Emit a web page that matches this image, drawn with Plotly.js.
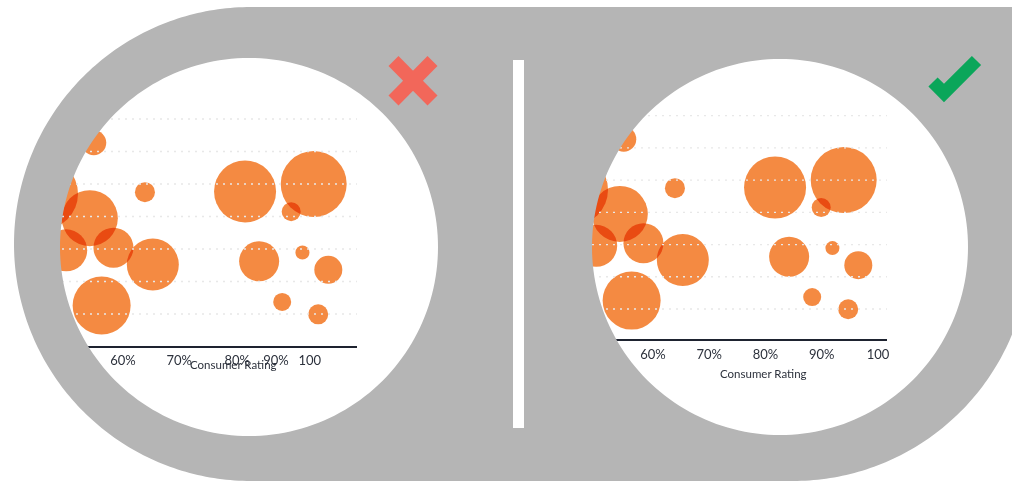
<!DOCTYPE html>
<html><head><meta charset="utf-8">
<script src="https://cdn.plot.ly/plotly-3.0.1.min.js"></script>
<style>
html,body{margin:0;padding:0;background:#fff;}
#chart{width:1012px;height:481px;}
#chart .scatterlayer path.point{mix-blend-mode:multiply;}
</style>
</head><body><div id="chart"></div>
<script>
// ---- data ----
const ratingPct   = [54.8, 45.6, 54.1, 49.9, 58.3, 65.3, 56.2, 63.9, 81.7, 93.9, 89.9, 84.2, 91.9, 96.5, 88.3, 94.7];
const scoreLevel  = [6.27, 4.70, 3.95, 2.96, 3.04, 2.52, 1.26, 4.75, 4.77, 5.00, 4.15, 2.62, 2.89, 2.36, 1.37, 0.99];
const bubbleSize  = [25, 72, 56, 42, 40, 52, 58, 20, 62, 66, 19, 40, 14, 28, 18, 20];
const tickVals    = [60, 70, 80, 90, 100];
const badTickVals = [60, 70, 80.3, 87.2, 93.2];
const tickText    = ['60%', '70%', '80%', '90%', '100'];
const gridLevels  = [1, 2, 3, 4, 5, 6, 7];
const axisTitle   = 'Consumer Rating';

// ---- geometry helpers (pixel -> paper) ----
const W = 1012, H = 481;
const fx = px => (px / W).toFixed(5);
const fy = py => (1 - py / H).toFixed(5);
function circlePath(cx, cy, r, n) {
  let s = '';
  for (let i = 0; i < n; i++) {
    const a = 2 * Math.PI * i / n;
    s += (i ? ' L' : 'M') + fx(cx + r * Math.cos(a)) + ',' + fy(cy + r * Math.sin(a));
  }
  return s + ' Z';
}
// frame: rounded left end, square top-right, rounded bottom-right
function framePath(xl, xr, top, bot, n) {
  const r = (bot - top) / 2, cy = (top + bot) / 2;
  let s = 'M' + fx(xl) + ',' + fy(top) + ' L' + fx(xr + r + 20) + ',' + fy(top) + ' L' + fx(xr + r + 20) + ',' + fy(cy) + ' L' + fx(xr + r) + ',' + fy(cy);
  for (let i = 1; i <= n; i++) {
    const a = Math.PI / 2 * i / n;
    s += ' L' + fx(xr + r * Math.cos(a)) + ',' + fy(cy + r * Math.sin(a));
  }
  s += ' L' + fx(xl) + ',' + fy(bot);
  for (let i = 1; i <= 2 * n; i++) {
    const a = Math.PI / 2 + Math.PI * i / (2 * n);
    s += ' L' + fx(xl + r * Math.cos(a)) + ',' + fy(cy + r * Math.sin(a));
  }
  return s + ' Z';
}
function polyPath(pts) {
  return pts.map((p, i) => (i ? 'L' : 'M') + fx(p[0]) + ',' + fy(p[1])).join(' ') + ' Z';
}

const bubbleColor = '#f48a42';
const textColor = '#2c313c';
const FONT = 'Lato, "Open Sans", sans-serif';

const traces = [
  {type: 'scatter', mode: 'markers', x: ratingPct, y: scoreLevel, xaxis: 'x', yaxis: 'y',
   marker: {size: bubbleSize, sizemode: 'diameter', color: bubbleColor, opacity: 1, line: {width: 0}}, hoverinfo: 'skip'},
  {type: 'scatter', mode: 'markers', x: ratingPct, y: scoreLevel, xaxis: 'x2', yaxis: 'y2',
   marker: {size: bubbleSize, sizemode: 'diameter', color: bubbleColor, opacity: 1, line: {width: 0}}, hoverinfo: 'skip'}
];

const shapes = [];
gridLevels.forEach(k => {
  ['', '2'].forEach(sfx => {
    shapes.push({type: 'line', xref: 'x' + sfx + ' domain', yref: 'y' + sfx, x0: 0, x1: 1, y0: k, y1: k,
      line: {color: '#e8e8e8', width: 1.3, dash: '2px,5px'}, layer: 'above'});
  });
});
// grey frame with two round windows
shapes.push({type: 'path', xref: 'paper', yref: 'paper', layer: 'above',
  path: framePath(251, 793, 7, 481, 90) + ' ' + circlePath(249, 247, 189, 200) + ' ' + circlePath(780, 247, 188, 200),
  fillrule: 'evenodd', fillcolor: '#b5b5b5', line: {width: 0}});
// white divider
shapes.push({type: 'rect', xref: 'paper', yref: 'paper', layer: 'above',
  x0: 513 / W, x1: 524 / W, y0: 1 - 428 / H, y1: 1 - 60 / H, fillcolor: '#ffffff', line: {width: 0}});
// red cross
shapes.push({type: 'line', xref: 'paper', yref: 'paper', layer: 'above',
  x0: 393.5 / W, y0: 1 - 61 / H, x1: 432.5 / W, y1: 1 - 100.5 / H, line: {color: '#f2675a', width: 14}});
shapes.push({type: 'line', xref: 'paper', yref: 'paper', layer: 'above',
  x0: 432.5 / W, y0: 1 - 61 / H, x1: 393.5 / W, y1: 1 - 100.5 / H, line: {color: '#f2675a', width: 14}});
// green check
shapes.push({type: 'path', xref: 'paper', yref: 'paper', layer: 'above',
  path: polyPath([[944, 102.2], [981.1, 65.1], [971.9, 55.9], [944, 83.8], [937.6, 77.4], [928.4, 86.6]]),
  fillcolor: '#0aa65a', line: {width: 0}});

const baseX = {
  range: [47.91, 101.6], showline: true, linecolor: '#1e2330', linewidth: 2,
  showgrid: false, zeroline: false, ticks: '', tickfont: {size: 13, color: textColor, family: FONT},
  tickvals: tickVals, ticktext: tickText, fixedrange: true
};

const layout = {
  width: W, height: H, margin: {l: 0, r: 0, t: 0, b: 0},
  paper_bgcolor: '#ffffff', plot_bgcolor: 'rgba(0,0,0,0)', showlegend: false,
  font: {family: FONT, color: textColor},
  xaxis: Object.assign({}, baseX, {domain: [55 / W, 357 / W], anchor: 'y', tickvals: badTickVals, ticklabelstandoff: 1}),
  yaxis: {domain: [1 - 346 / H, 1 - 100 / H], range: [0.015, 7.585], visible: false, anchor: 'x', fixedrange: true},
  xaxis2: Object.assign({}, baseX, {domain: [585 / W, 887 / W], anchor: 'y2', ticklabelstandoff: 2}),
  yaxis2: {domain: [1 - 339.3 / H, 1 - 100 / H], range: [0.059, 7.486], visible: false, anchor: 'x2', fixedrange: true},
  annotations: [
    {text: axisTitle, xref: 'x', yref: 'paper', x: 79.6, y: 1 - 364 / H, showarrow: false,
     xanchor: 'center', yanchor: 'middle', font: {size: 11.5, color: textColor, family: FONT}},
    {text: axisTitle, xref: 'x2', yref: 'paper', x: 79.6, y: 1 - 373 / H, showarrow: false,
     xanchor: 'center', yanchor: 'middle', font: {size: 11.5, color: textColor, family: FONT}}
  ],
  shapes: shapes
};

Plotly.newPlot('chart', traces, layout, {displayModeBar: false, staticPlot: true});
</script>
</body></html>
